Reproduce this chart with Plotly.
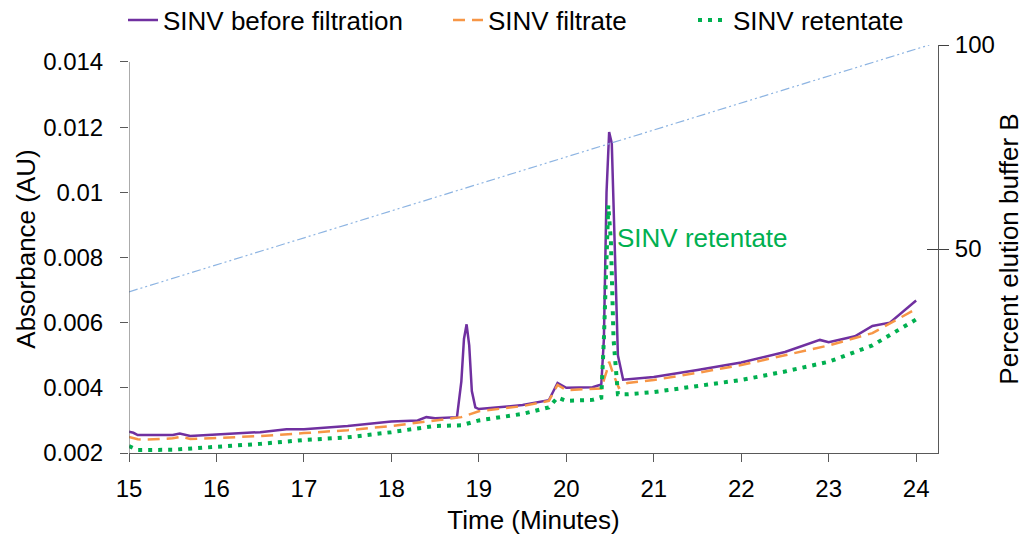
import plotly.graph_objects as go

# ---- data ----
before_t = [15.0, 15.05, 15.1, 15.3, 15.5, 15.58, 15.7, 16.0, 16.5, 16.8, 17.0, 17.5, 18.0, 18.3, 18.4, 18.5,
            18.75, 18.8, 18.83, 18.86, 18.89, 18.92, 18.96, 19.0, 19.5, 19.8, 19.9, 20.0, 20.3, 20.4,
            20.43, 20.46, 20.49, 20.52, 20.55, 20.59, 20.65, 21.0, 21.5, 22.0, 22.5, 22.9, 23.0, 23.3,
            23.5, 23.7, 24.0]
before_a = [0.00265, 0.00262, 0.00255, 0.00256, 0.00255, 0.0026, 0.00252, 0.00257, 0.00264, 0.00273, 0.00273,
            0.00283, 0.00297, 0.0030, 0.0031, 0.00307, 0.0031, 0.0042, 0.0055, 0.00595, 0.0053, 0.0039,
            0.0034, 0.00335, 0.00347, 0.00362, 0.00415, 0.0040, 0.00402, 0.0041,
            0.0055, 0.0100, 0.01185, 0.0115, 0.0085, 0.0050, 0.00425, 0.00433, 0.00455, 0.00478,
            0.0051, 0.00547, 0.0054, 0.00558, 0.0059, 0.0060, 0.00668]

filtrate_t = [15.0, 15.1, 15.2, 15.5, 15.6, 15.7, 16.0, 16.5, 17.0, 17.5, 18.0, 18.5, 18.8, 19.0, 19.5, 19.8,
              19.9, 20.0, 20.4, 20.46, 20.49, 20.54, 20.6, 20.7, 21.0, 21.5, 22.0, 22.5, 23.0, 23.5, 24.0]
filtrate_a = [0.00249, 0.00242, 0.00241, 0.00245, 0.0025, 0.00243, 0.00246, 0.00252, 0.00261, 0.0027,
              0.00283, 0.0030, 0.0031, 0.00328, 0.00344, 0.0036, 0.00409, 0.00393, 0.00398, 0.0045,
              0.0048, 0.0044, 0.0040, 0.00415, 0.00424, 0.00446, 0.0047, 0.005, 0.0053, 0.00568, 0.00642]

retentate_t = [15.0, 15.1, 15.5, 16.0, 16.5, 17.0, 17.5, 18.0, 18.5, 18.8, 19.0, 19.5, 19.8, 19.9, 20.0,
               20.3, 20.4, 20.43, 20.46, 20.48, 20.51, 20.54, 20.59, 20.7, 21.0, 21.5, 22.0, 22.5,
               23.0, 23.5, 24.0]
retentate_a = [0.00221, 0.00209, 0.0021, 0.00218, 0.00228, 0.0024, 0.00248, 0.00264, 0.00283, 0.00285,
               0.0030, 0.0032, 0.0034, 0.0037, 0.0036, 0.00363, 0.0037, 0.0055, 0.0085, 0.0096, 0.0085,
               0.0055, 0.0038, 0.0038, 0.00387, 0.00404, 0.00424, 0.0045, 0.0048, 0.0053, 0.0061]

gradient_t = [15.0, 24.15]
gradient_b = [39.5, 100.0]

y_ticks = [0.002, 0.004, 0.006, 0.008, 0.01, 0.012, 0.014]
y_tick_text = ["0.002", "0.004", "0.006", "0.008", "0.01", "0.012", "0.014"]
x_ticks = [15, 16, 17, 18, 19, 20, 21, 22, 23, 24]
y2_ticks = [50, 100]

PURPLE = "#7030A0"
ORANGE = "#F79646"
GREEN = "#00B050"
BLUE = "#8DB4E2"
AXIS = "#595959"
FONT = "Liberation Sans, Arial, sans-serif"

fig = go.Figure()
fig.add_trace(go.Scatter(x=gradient_t, y=gradient_b, yaxis="y2", mode="lines",
                         line=dict(color=BLUE, width=1.2, dash="9px,3px,2px,3px,2px,3px"),
                         showlegend=False, hoverinfo="skip"))
fig.add_trace(go.Scatter(x=before_t, y=before_a, mode="lines", name="SINV before filtration",
                         line=dict(color=PURPLE, width=2.5), legendwidth=280))
fig.add_trace(go.Scatter(x=filtrate_t, y=filtrate_a, mode="lines", name="SINV filtrate",
                         line=dict(color=ORANGE, width=2.5, dash="12px,7px"), legendwidth=200))
fig.add_trace(go.Scatter(x=retentate_t, y=retentate_a, mode="lines", name="SINV retentate",
                         line=dict(color=GREEN, width=4, dash="4px,6px"), legendwidth=190))
# invisible helper trace so the inner tick axis is drawn
fig.add_trace(go.Scatter(x=gradient_t, y=gradient_b, yaxis="y3", mode="lines",
                         line=dict(width=0), showlegend=False, hoverinfo="skip", opacity=0))

fig.add_annotation(x=20.56, y=0.0086, xref="x", yref="y", text="SINV retentate", showarrow=False,
                   xanchor="left", yanchor="middle", font=dict(color=GREEN, size=26, family=FONT))

# left axis line only spanning the labelled range
fig.add_shape(type="line", xref="x", yref="y", x0=15, x1=15, y0=0.002, y1=0.014,
              line=dict(color=AXIS, width=1))

fig.update_layout(
    width=1024, height=535,
    margin=dict(l=129, r=86, t=45, b=82, autoexpand=False),
    paper_bgcolor="white", plot_bgcolor="white",
    font=dict(family=FONT, size=24, color="black"),
    legend=dict(orientation="h", xref="container", yref="container", x=123 / 1024, xanchor="left",
                y=1 - 20 / 535, yanchor="middle", font=dict(size=26), bgcolor="rgba(0,0,0,0)",
                borderwidth=0),
    xaxis=dict(range=[15, 24.25], tickvals=x_ticks, ticks="outside", ticklen=8, tickcolor=AXIS,
               showline=True, linecolor=AXIS, linewidth=1, showgrid=False, zeroline=False,
               ticklabelstandoff=6, automargin=False,
               title=dict(text="Time (Minutes)", font=dict(size=26), standoff=12),
               tickfont=dict(size=24)),
    yaxis=dict(range=[0.002, 0.01452], tickvals=y_ticks, ticktext=y_tick_text, ticks="outside",
               ticklen=8, tickcolor=AXIS, showline=False, showgrid=False, zeroline=False,
               ticklabelstandoff=12, automargin=False,
               title=dict(text="Absorbance (AU)", font=dict(size=26), standoff=0),
               tickfont=dict(size=24)),
    yaxis2=dict(range=[0, 100], overlaying="y", side="right", tickvals=y2_ticks, ticks="outside",
                ticklen=10, tickcolor="#404040", showline=True, linecolor=AXIS, linewidth=1,
                showgrid=False, zeroline=False, ticklabelstandoff=1, automargin=False,
                title=dict(text="Percent elution buffer B", font=dict(size=26), standoff=6),
                tickfont=dict(size=24)),
    yaxis3=dict(range=[0, 100], overlaying="y", side="right", tickvals=y2_ticks, ticks="inside",
                ticklen=11, tickcolor="#404040", showline=False, showgrid=False, zeroline=False,
                showticklabels=False, automargin=False),
)

fig.write_html("out.html")
